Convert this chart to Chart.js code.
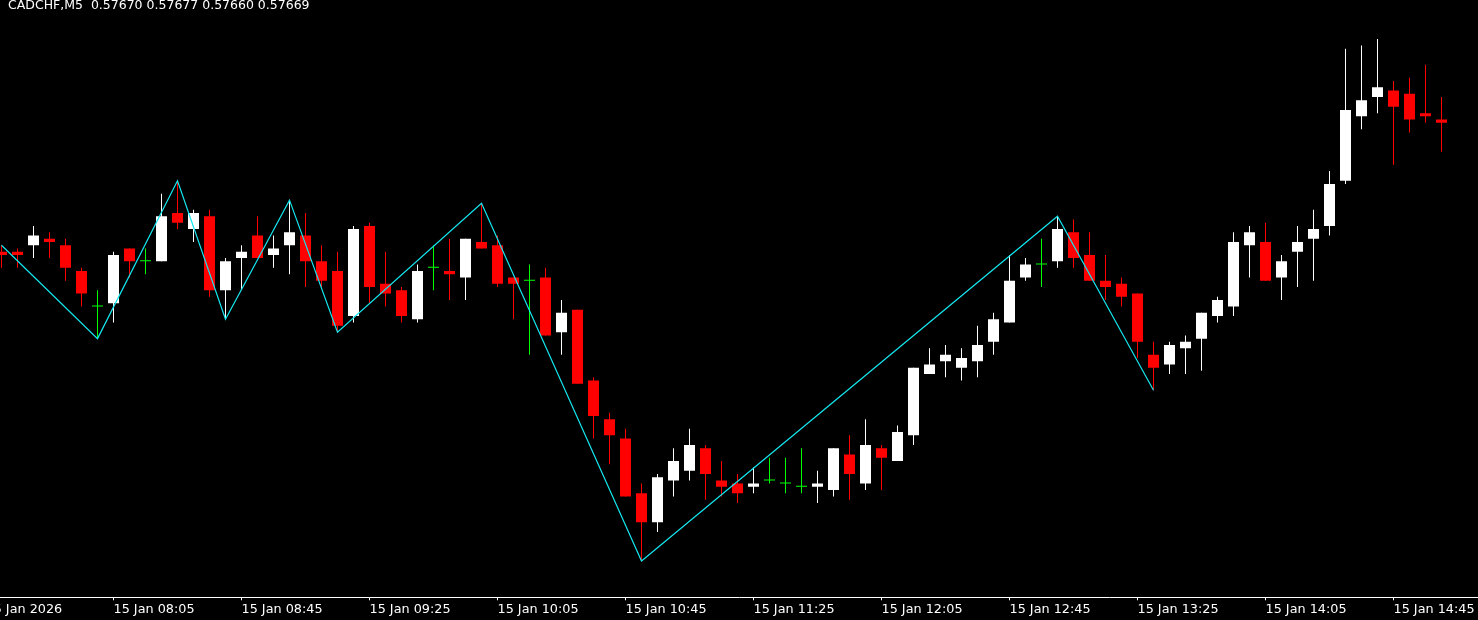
<!DOCTYPE html>
<html>
<head>
<meta charset="utf-8">
<title>CADCHF,M5</title>
<script src="https://cdn.jsdelivr.net/npm/chart.js@4.4.1/dist/chart.umd.min.js"></script>
<style>
  html, body { margin: 0; padding: 0; background: #000; }
  canvas { display: block; background: #000; }
</style>
</head>
<body>
<canvas id="priceChart" width="1478" height="620"></canvas>
<script>
// Header line, top left
const symbolTitle = "CADCHF,M5  0.57670 0.57677 0.57660 0.57669";

// M5 candles, 07:30 .. 15:00 (one per 5 minutes)
const opens = [
  0.57629, 0.57629, 0.57631, 0.57633, 0.57631, 0.57623, 0.57612, 0.57613, 0.57630, 0.57626,
  0.57626, 0.57641, 0.57636, 0.57640, 0.57617, 0.57627, 0.57634, 0.57628, 0.57631, 0.57634,
  0.57626, 0.57623, 0.57609, 0.57637, 0.57619, 0.57617, 0.57608, 0.57624, 0.57623, 0.57621,
  0.57632, 0.57631, 0.57621, 0.57620, 0.57621, 0.57604, 0.57611, 0.57589, 0.57577, 0.57571,
  0.57554, 0.57545, 0.57558, 0.57561, 0.57568, 0.57558, 0.57557, 0.57556, 0.57558, 0.57557,
  0.57556, 0.57556, 0.57555, 0.57566, 0.57557, 0.57568, 0.57564, 0.57572, 0.57591, 0.57595,
  0.57593, 0.57595, 0.57601, 0.57607, 0.57621, 0.57625, 0.57626, 0.57635, 0.57628, 0.57620,
  0.57619, 0.57616, 0.57597, 0.57594, 0.57599, 0.57602, 0.57609, 0.57612, 0.57631, 0.57632,
  0.57621, 0.57629, 0.57633, 0.57637, 0.57651, 0.57671, 0.57677, 0.57679, 0.57678, 0.57672,
  0.57670
];
const highs = [
  0.57631, 0.57630, 0.57637, 0.57635, 0.57633, 0.57624, 0.57617, 0.57629, 0.57630, 0.57630,
  0.57647, 0.57651, 0.57642, 0.57642, 0.57627, 0.57631, 0.57640, 0.57634, 0.57645, 0.57641,
  0.57631, 0.57629, 0.57637, 0.57638, 0.57629, 0.57618, 0.57625, 0.57631, 0.57633, 0.57633,
  0.57644, 0.57634, 0.57621, 0.57625, 0.57624, 0.57614, 0.57611, 0.57590, 0.57579, 0.57574,
  0.57557, 0.57560, 0.57568, 0.57574, 0.57569, 0.57564, 0.57560, 0.57562, 0.57565, 0.57565,
  0.57568, 0.57561, 0.57568, 0.57572, 0.57577, 0.57569, 0.57575, 0.57593, 0.57599, 0.57600,
  0.57599, 0.57606, 0.57610, 0.57628, 0.57627, 0.57633, 0.57640, 0.57639, 0.57635, 0.57628,
  0.57621, 0.57616, 0.57601, 0.57601, 0.57603, 0.57610, 0.57615, 0.57635, 0.57637, 0.57638,
  0.57628, 0.57637, 0.57642, 0.57654, 0.57692, 0.57693, 0.57695, 0.57682, 0.57683, 0.57687,
  0.57677
];
const lows = [
  0.57624, 0.57624, 0.57627, 0.57627, 0.57620, 0.57612, 0.57602, 0.57607, 0.57621, 0.57622,
  0.57626, 0.57636, 0.57632, 0.57615, 0.57608, 0.57617, 0.57627, 0.57624, 0.57622, 0.57618,
  0.57618, 0.57604, 0.57607, 0.57613, 0.57612, 0.57607, 0.57607, 0.57617, 0.57614, 0.57614,
  0.57630, 0.57618, 0.57608, 0.57597, 0.57603, 0.57597, 0.57588, 0.57571, 0.57563, 0.57553,
  0.57533, 0.57542, 0.57553, 0.57558, 0.57552, 0.57553, 0.57551, 0.57554, 0.57557, 0.57554,
  0.57554, 0.57551, 0.57553, 0.57552, 0.57555, 0.57555, 0.57564, 0.57569, 0.57591, 0.57590,
  0.57589, 0.57590, 0.57597, 0.57607, 0.57620, 0.57618, 0.57624, 0.57624, 0.57620, 0.57614,
  0.57612, 0.57596, 0.57586, 0.57591, 0.57591, 0.57592, 0.57607, 0.57609, 0.57621, 0.57620,
  0.57614, 0.57618, 0.57620, 0.57634, 0.57650, 0.57667, 0.57672, 0.57656, 0.57666, 0.57669,
  0.57660
];
const closes = [
  0.57628, 0.57628, 0.57634, 0.57632, 0.57624, 0.57616, 0.57612, 0.57628, 0.57626, 0.57626,
  0.57640, 0.57638, 0.57641, 0.57617, 0.57626, 0.57629, 0.57627, 0.57630, 0.57635, 0.57626,
  0.57620, 0.57606, 0.57636, 0.57618, 0.57616, 0.57609, 0.57623, 0.57624, 0.57622, 0.57633,
  0.57630, 0.57619, 0.57619, 0.57620, 0.57603, 0.57610, 0.57588, 0.57578, 0.57572, 0.57553,
  0.57545, 0.57559, 0.57564, 0.57569, 0.57560, 0.57556, 0.57554, 0.57557, 0.57558, 0.57557,
  0.57556, 0.57557, 0.57568, 0.57560, 0.57569, 0.57565, 0.57573, 0.57593, 0.57594, 0.57597,
  0.57596, 0.57600, 0.57608, 0.57620, 0.57625, 0.57625, 0.57636, 0.57627, 0.57620, 0.57618,
  0.57615, 0.57601, 0.57593, 0.57600, 0.57601, 0.57610, 0.57614, 0.57632, 0.57635, 0.57620,
  0.57626, 0.57632, 0.57636, 0.57650, 0.57673, 0.57676, 0.57680, 0.57674, 0.57670, 0.57671,
  0.57669
];

// ZigZag turning points (candle index, price)
const zigzagIndex = [0, 6, 11, 14, 18, 21, 30, 40, 66, 72];
const zigzagPrice = [0.57631, 0.57602, 0.57651, 0.57608, 0.57645, 0.57604, 0.57644, 0.57533, 0.57640, 0.57586];

// time axis labels, every 8th candle (index -1 is the cut off date label)
const tickIndex = [-1, 7, 15, 23, 31, 39, 47, 55, 63, 71, 79, 87];
const tickLabels = [
  "15 Jan 2026", "15 Jan 08:05", "15 Jan 08:45", "15 Jan 09:25", "15 Jan 10:05", "15 Jan 10:45",
  "15 Jan 11:25", "15 Jan 12:05", "15 Jan 12:45", "15 Jan 13:25", "15 Jan 14:05", "15 Jan 14:45"
];

// visible price range of the window
const priceMin = 0.5752172;
const priceMax = 0.5770712;

const BULL_COLOR = "#ffffff";
const BEAR_COLOR = "#ff0000";
const DOJI_COLOR = "#00ff00";
const ZIGZAG_COLOR = "#14e6ee";

/**
 * candle colour: white up, red down, green when open == close
 */
function candleColor(i) {
  if (closes[i] > opens[i]) return BULL_COLOR;
  if (closes[i] < opens[i]) return BEAR_COLOR;
  return DOJI_COLOR;
}

const colors = opens.map((o, i) => candleColor(i));
const bodyData = opens.map((o, i) => ({ x: i, y: [o, closes[i]] }));
const wickData = lows.map((l, i) => ({ x: i, y: [l, highs[i]] }));
const zigzagData = zigzagIndex.map((idx, k) => ({ x: idx, y: zigzagPrice[k] }));

/**
 * symbol + OHLC text in the top left corner
 */
const titlePlugin = {
  id: "symbolTitle",
  afterDraw(chart) {
    const ctx = chart.ctx;
    ctx.save();
    ctx.font = '12.5px "DejaVu Sans"';
    ctx.fillStyle = "#ffffff";
    ctx.textBaseline = "alphabetic";
    ctx.textAlign = "left";
    ctx.fillText(symbolTitle, 8, 9);
    ctx.restore();
  }
};

const ctx = document.getElementById("priceChart").getContext("2d");
const chart = new Chart(ctx, {
  type: "bar",
  data: {
    datasets: [
      {
        type: "line",
        data: zigzagData,
        borderColor: ZIGZAG_COLOR,
        borderWidth: 1.2,
        pointRadius: 0,
        tension: 0,
        order: 0
      },
      {
        data: bodyData,
        backgroundColor: colors,
        borderWidth: 0,
        barThickness: 11,
        barPercentage: 11 / 16,
        categoryPercentage: 1,
        minBarLength: 1,
        inflateAmount: 0,
        grouped: false,
        order: 1
      },
      {
        data: wickData,
        backgroundColor: colors,
        borderWidth: 0,
        barThickness: 1,
        barPercentage: 1 / 16,
        categoryPercentage: 1,
        inflateAmount: 0,
        grouped: false,
        order: 2
      }
    ]
  },
  options: {
    responsive: false,
    animation: false,
    events: [],
    layout: { padding: 0 },
    plugins: {
      legend: { display: false },
      tooltip: { enabled: false }
    },
    scales: {
      x: {
        type: "linear",
        offset: false,
        bounds: "data",
        min: -0.09375,
        max: 92.28125,
        afterBuildTicks: scale => {
          scale.ticks = tickIndex.map(v => ({ value: v }));
        },
        afterFit: scale => {
          scale.paddingLeft = 0;
          scale.paddingRight = 0;
        },
        ticks: {
          autoSkip: false,
          maxRotation: 0,
          minRotation: 0,
          align: "start",
          padding: 2,
          color: "#ffffff",
          font: { family: "DejaVu Sans", size: 12.8, lineHeight: 1.23 },
          callback: (value, index) => tickLabels[index]
        },
        grid: {
          display: true,
          offset: false,
          drawOnChartArea: false,
          drawTicks: true,
          tickLength: 3,
          color: "#ffffff"
        },
        border: { display: true, color: "#ffffff", width: 1 }
      },
      y: {
        display: false,
        min: priceMin,
        max: priceMax
      }
    }
  },
  plugins: [titlePlugin]
});
</script>
</body>
</html>
